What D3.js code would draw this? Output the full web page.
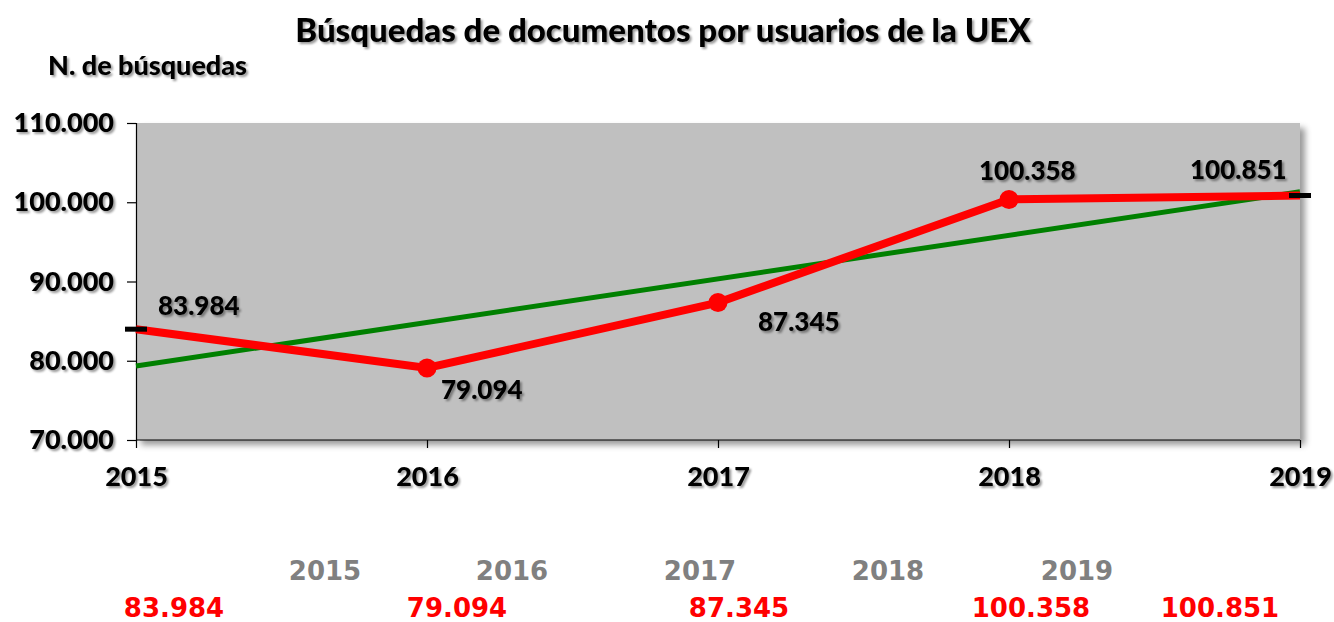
<!DOCTYPE html>
<html lang="es">
<head>
<meta charset="UTF-8">
<title>Búsquedas de documentos por usuarios de la UEX</title>
<script src="https://d3js.org/d3.v7.min.js"></script>
<style>
    body { margin: 0; background: #fff; }
    svg { display: block; font-family: Lato, "Open Sans", sans-serif; font-weight: 900; }
</style>
</head>
<body>
<svg id="chart" width="1334" height="622"></svg>
<script>
    // data
    const years = [2015, 2016, 2017, 2018, 2019];
    const searches = [83984, 79094, 87345, 100358, 100851];
    const trendYears = [2015, 2019];
    const trendValues = [79330, 101330];
    const yTicks = [70000, 80000, 90000, 100000, 110000];
    const tableYears = ["2015", "2016", "2017", "2018", "2019"];
    const tableValues = ["83.984", "79.094", "87.345", "100.358", "100.851"];

    const es = d3.formatLocale({ decimal: ",", thousands: ".", grouping: [3], currency: ["", ""] });
    const fmt = es.format(",d");

    const margin = { top: 123, right: 34, bottom: 182, left: 136 },
          width = 1334 - margin.left - margin.right,
          height = 622 - margin.top - margin.bottom;

    const svg = d3.select("#chart");

    // shadows
    const defs = svg.append("defs");
    const ts = defs.append("filter").attr("id", "tshadow")
        .attr("x", "-10%").attr("y", "-20%").attr("width", "130%").attr("height", "150%");
    ts.append("feDropShadow").attr("dx", 2).attr("dy", 2).attr("stdDeviation", 1.2)
        .attr("flood-color", "#000").attr("flood-opacity", 0.4);
    const ps = defs.append("filter").attr("id", "pshadow")
        .attr("x", "-5%").attr("y", "-5%").attr("width", "110%").attr("height", "120%");
    ps.append("feDropShadow").attr("dx", 5).attr("dy", 5).attr("stdDeviation", 3)
        .attr("flood-color", "#000").attr("flood-opacity", 0.4);

    const g = svg.append("g").attr("transform", `translate(${margin.left},${margin.top})`);

    const x = d3.scaleLinear().domain([2015, 2019]).range([0, width]);
    const y = d3.scaleLinear().domain([70000, 110000]).range([height, 0]);

    // plot area
    g.append("rect")
        .attr("width", width).attr("height", height)
        .attr("fill", "#c0c0c0")
        .attr("filter", "url(#pshadow)");

    // axes
    const yAxis = g.append("g")
        .call(d3.axisLeft(y).tickValues(yTicks).tickFormat(fmt).tickSize(9).tickPadding(13));
    const xAxis = g.append("g")
        .attr("transform", `translate(0,${height})`)
        .call(d3.axisBottom(x).tickValues(years).tickFormat(d3.format("d")).tickSize(8).tickPadding(19));
    [yAxis, xAxis].forEach(a => {
        a.selectAll("path, line").attr("stroke", "#000").attr("stroke-width", 1.2);
        a.selectAll("text")
            .attr("fill", "#000")
            .style("font-size", "27px")
            .style("font-weight", "900")
            .style("font-family", "Lato, sans-serif")
            .attr("filter", "url(#tshadow)");
    });
    xAxis.select(".domain").remove();
    g.append("line").attr("x1", 0).attr("x2", width).attr("y1", height).attr("y2", height)
        .attr("stroke", "#000").attr("stroke-width", 1.2);

    // trend line
    const trend = trendYears.map((d, i) => [d, trendValues[i]]);
    g.append("path")
        .datum(trend)
        .attr("fill", "none")
        .attr("stroke", "#008000")
        .attr("stroke-width", 5)
        .attr("d", d3.line().x(d => x(d[0])).y(d => y(d[1])));

    // series
    const pts = years.map((d, i) => ({ year: d, value: searches[i] }));
    g.append("path")
        .datum(pts)
        .attr("fill", "none")
        .attr("stroke", "#ff0000")
        .attr("stroke-width", 8)
        .attr("d", d3.line().x(d => x(d.year)).y(d => y(d.value)));

    g.selectAll(".dot")
        .data(pts.slice(1, 4))
        .enter().append("circle")
        .attr("cx", d => x(d.year))
        .attr("cy", d => y(d.value))
        .attr("r", 9.5)
        .attr("fill", "#ff0000");

    g.selectAll(".dash")
        .data([pts[0], pts[4]])
        .enter().append("rect")
        .attr("x", d => x(d.year) - 11)
        .attr("y", d => y(d.value) - 2.5)
        .attr("width", 22)
        .attr("height", 5)
        .attr("fill", "#000");

    // data labels
    const labelOffsets = [[22, -23], [14, 22], [40, 19], [-30, -29], [-110, -26]];
    g.selectAll(".lbl")
        .data(pts)
        .enter().append("text")
        .attr("x", (d, i) => x(d.year) + labelOffsets[i][0])
        .attr("y", (d, i) => y(d.value) + labelOffsets[i][1])
        .attr("dy", "0.35em")
        .attr("fill", "#000")
        .attr("filter", "url(#tshadow)")
        .style("font-size", "26px")
        .text(d => fmt(d.value));

    // titles
    svg.append("text")
        .attr("x", 663).attr("y", 42)
        .attr("text-anchor", "middle")
        .attr("filter", "url(#tshadow)")
        .style("font-size", "33px")
        .text("Búsquedas de documentos por usuarios de la UEX");
    svg.append("text")
        .attr("x", 48).attr("y", 75)
        .attr("filter", "url(#tshadow)")
        .style("font-size", "27px")
        .text("N. de búsquedas");

    // data table under the chart
    const yearX = [325, 512, 700, 888, 1077];
    const valX = [174, 457, 739, 1031, 1220];
    svg.selectAll(".ty")
        .data(tableYears)
        .enter().append("text")
        .attr("x", (d, i) => yearX[i]).attr("y", 580)
        .attr("text-anchor", "middle")
        .attr("fill", "#808080")
        .style("font-family", "'DejaVu Sans', sans-serif")
        .style("font-weight", "bold")
        .style("font-size", "26px")
        .text(d => d);
    svg.selectAll(".tv")
        .data(tableValues)
        .enter().append("text")
        .attr("x", (d, i) => valX[i]).attr("y", 617)
        .attr("text-anchor", "middle")
        .attr("fill", "#ff0000")
        .style("font-family", "'DejaVu Sans', sans-serif")
        .style("font-weight", "bold")
        .style("font-size", "26px")
        .text(d => d);
</script>
</body>
</html>
